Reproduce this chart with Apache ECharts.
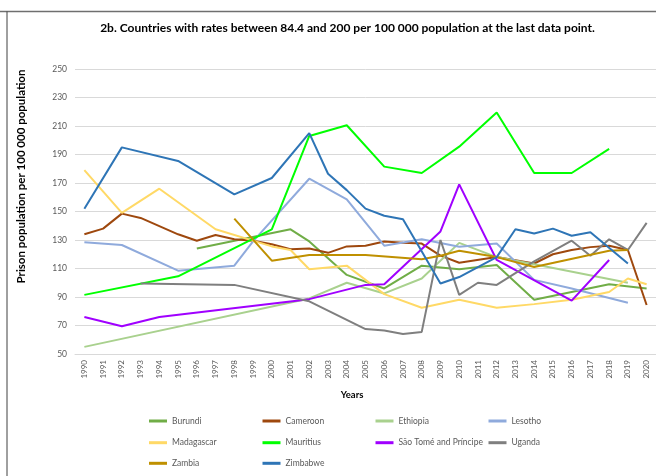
<!DOCTYPE html>
<html>
<head>
<meta charset="utf-8">
<script src="https://cdn.jsdelivr.net/npm/echarts@6/dist/echarts.min.js"></script>
<style>
  html, body { margin: 0; padding: 0; background: #ffffff; }
  #chart { width: 656px; height: 476px; }
</style>
</head>
<body>
<div id="chart"></div>
<script>
// Prison population per 100 000, by year (null = no data that year)
const years = ['1990','1991','1992','1993','1994','1995','1996','1997','1998','1999',
  '2000','2001','2002','2003','2004','2005','2006','2007','2008','2009',
  '2010','2011','2012','2013','2014','2015','2016','2017','2018','2019','2020'];

const yTicks = { min: 50, max: 250, step: 20 };

const burundi    = [null,null,null,null,null,null,124,null,null,null, null,137.5,129,null,105.5,null,96,null,112,null, 109.5,null,112.5,null,88,null,null,null,99,null,96];
const cameroon   = [134,138,148.5,145.5,null,134,129.5,133.5,130.5,129.5, 127,123.5,124,121,125.5,126,129,128,127.5,119, 114,null,118,null,113.5,120,123,125,126,123,84.4];
const ethiopia   = [55,null,null,null,null,null,null,null,null,null, null,null,89,null,100,null,92.5,null,103,null, 128,null,118,null,113,null,null,null,null,100,null];
const lesotho    = [128.5,null,126.5,null,null,108.5,null,null,112,129, null,null,173,null,158.5,null,126,null,130.5,null, 125.3,null,127.5,null,102,null,96,null,null,86,null];
const madagascar = [179,null,149,null,166,null,null,137.5,null,null, 125.5,123,109.5,null,112,null,92,null,82.5,null, 88,null,82.5,null,85,null,88,null,93.5,103,99];
const mauritius  = [91.5,null,null,null,null,104.5,null,null,null,null, 137.5,null,203,null,210.5,null,181.5,null,177,null, 195.5,null,219.5,null,177,null,177,null,194,null,null];
const saoTome    = [76,null,69.5,null,76,null,null,null,null,null, null,null,88.5,null,null,98.5,99,null,null,136, 169,null,116,null,null,null,87.5,null,116,null,null];
const uganda     = [null,null,null,99.5,null,null,null,null,98.5,null, null,null,87,null,null,67.5,66.5,64,65.5,130, 91.5,100,98.5,null,115,null,129.5,119,130.5,123,142];
const zambia     = [null,null,null,null,null,null,null,null,145,null, 115.5,null,119.5,null,null,119.5,null,null,116.5,119, 122.5,null,118,null,111,null,null,null,122.5,123,null];
const zimbabwe   = [152,null,195,null,null,185.5,null,null,162,null, 173.5,null,205,176.5,165,152,147,144.5,null,99.5, 104,null,118,137.5,134.5,138,133,135.5,null,113.5,null];

const seriesNames = ['Burundi','Cameroon','Ethiopia','Lesotho','Madagascar','Mauritius',
  'São Tomé and Príncipe','Uganda','Zambia','Zimbabwe'];
const seriesData = [burundi, cameroon, ethiopia, lesotho, madagascar, mauritius,
  saoTome, uganda, zambia, zimbabwe];
const seriesColors = ['#70AD47','#9E480E','#A9D18E','#8FAADC','#FFD966','#00FF00',
  '#A000FF','#7F7F7F','#BF9000','#2E75B6'];

const FONT = 'Lato, "Noto Sans", sans-serif';
const legendCols = [149, 262.5, 375.5, 488.5];
const legendRows = [421, 442.7, 463.3];

const chart = echarts.init(document.getElementById('chart'), null, { renderer: 'canvas' });

chart.setOption({
  backgroundColor: '#ffffff',
  animation: false,
  title: {
    text: '2b. Countries with rates between 84.4 and 200 per 100 000 population at the last data point.',
    left: 347.5,
    top: 22,
    textAlign: 'center',
    padding: 0,
    textStyle: { fontFamily: FONT, fontSize: 12, fontWeight: 'bold', color: '#000000' }
  },
  grid: { left: 75, top: 69, width: 582, height: 285, containLabel: false },
  xAxis: {
    type: 'category',
    data: years,
    boundaryGap: true,
    axisLine: { show: true, lineStyle: { color: '#D9D9D9', width: 1 } },
    axisTick: { show: false },
    axisLabel: {
      interval: 0, rotate: 90, margin: 6,
      fontFamily: FONT, fontSize: 8, color: '#595959'
    },
    splitLine: { show: false }
  },
  yAxis: {
    type: 'value',
    min: yTicks.min, max: yTicks.max, interval: yTicks.step,
    axisLine: { show: false },
    axisTick: { show: false },
    axisLabel: { margin: 8, fontFamily: FONT, fontSize: 8.5, color: '#595959' },
    splitLine: { lineStyle: { color: '#D9D9D9', width: 1 } }
  },
  legend: seriesNames.map((name, i) => ({
    data: [name],
    left: legendCols[i % 4],
    top: legendRows[Math.floor(i / 4)] - 6,
    padding: 0,
    icon: 'rect',
    itemWidth: 18,
    itemHeight: 3,
    selectedMode: false,
    textStyle: { fontFamily: FONT, fontSize: 8.5, color: '#595959', lineHeight: 12 }
  })),
  graphic: [
    { type: 'line', shape: { x1: 0, y1: 11.5, x2: 656, y2: 11.5 },
      style: { stroke: '#6f6f6f', lineWidth: 1.5 }, silent: true },
    { type: 'line', shape: { x1: 7, y1: 11.5, x2: 7, y2: 476 },
      style: { stroke: '#404040', lineWidth: 1 }, silent: true },
    { type: 'text', x: 21.5, y: 176.5, rotation: Math.PI / 2,
      style: { text: 'Prison population per 100 000 population', fontFamily: FONT,
        fontSize: 11.5, fontWeight: 'bold', fill: '#000000',
        align: 'center', verticalAlign: 'middle' } },
    { type: 'text', x: 352, y: 395,
      style: { text: 'Years', fontFamily: FONT, fontSize: 9.5, fontWeight: 'bold', fill: '#000000',
        align: 'center', verticalAlign: 'middle' } }
  ],
  series: seriesNames.map((name, i) => ({
    name,
    type: 'line',
    data: seriesData[i],
    connectNulls: true,
    showSymbol: false,
    symbol: 'none',
    lineStyle: { width: 2, color: seriesColors[i] },
    itemStyle: { color: seriesColors[i] },
    emphasis: { disabled: true }
  }))
});
</script>
</body>
</html>
